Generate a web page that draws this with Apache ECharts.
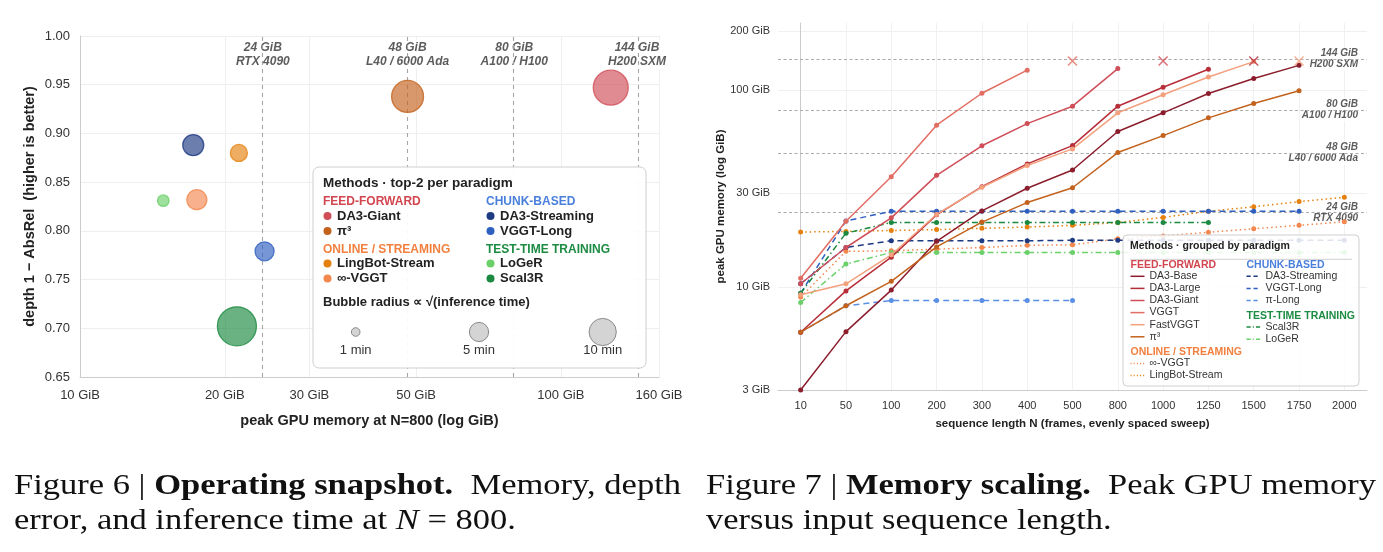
<!DOCTYPE html>
<html><head><meta charset="utf-8">
<script src="https://cdn.jsdelivr.net/npm/echarts@6.0.0/dist/echarts.min.js"></script>
<style>html,body{margin:0;padding:0;background:#fff;}#c{width:1383px;height:552px;}</style>
</head><body><div id="c"></div>
<script>
// ===== Figure 6 : operating snapshot at N = 800 =====
const bubbleNames    = ['DA3-Giant', 'π³', 'DA3-Streaming', 'VGGT-Long', 'LingBot-Stream', '∞-VGGT', 'LoGeR', 'Scal3R'];
const bubbleParadigm = ['FEED-FORWARD', 'FEED-FORWARD', 'CHUNK-BASED', 'CHUNK-BASED', 'ONLINE / STREAMING', 'ONLINE / STREAMING', 'TEST-TIME TRAINING', 'TEST-TIME TRAINING'];
const bubbleMemGiB   = [127, 48, 17.2, 24.2, 21.4, 17.5, 14.9, 21.2];
const bubbleDepth    = [0.947, 0.938, 0.888, 0.779, 0.880, 0.832, 0.831, 0.702];
const bubbleTimeMin  = [16.5, 13.8, 6.0, 4.9, 3.9, 5.4, 1.8, 20.6];
const memTicksGiB    = [10, 20, 30, 50, 100, 160];
const gpuMemGiB      = [24, 48, 80, 144];
const gpuNames       = ['RTX 4090', 'L40 / 6000 Ada', 'A100 / H100', 'H200 SXM'];
const sizeKeyMin     = [1, 5, 10];

// ===== Figure 7 : memory scaling =====
const seqLenN        = ['10','50','100','200','300','400','500','800','1000','1250','1500','1750','2000'];
const memAxisTicks   = [3, 10, 30, 100, 200];
const DA3Base        = [3.0, 5.94, 9.66, 17.1, 24.4, 31.8, 39.4, 61.8, 76.9, 96.4, 115, 134, null];
const DA3Large       = [5.9, 9.57, 14.2, 23.3, 32.4, 42.3, 52.4, 83.1, 103.8, 128, null, null, null];
const DA3Giant       = [10.4, 15.9, 22.5, 37.0, 52.3, 67.8, 83.1, 129, null, null, null, null, null];
const VGGT           = [11.1, 21.6, 36.4, 66.5, 96.7, 126.7, null, null, null, null, null, null, null];
const FastVGGT       = [9.14, 10.4, 14.6, 23.4, 32.2, 41.5, 50.4, 76.9, 95, 117, 140, null, null];
const Pi3            = [5.9, 8.04, 10.7, 16.0, 21.4, 26.9, 32.0, 48.3, 58.9, 72.5, 85.8, 99.5, null];
const InfVGGT        = [8.9, 15.2, 15.3, 15.6, 15.9, 16.3, 16.4, 17.6, 18.2, 19.0, 19.8, 20.6, 21.5];
const LingBotStream  = [19.05, 19.2, 19.4, 19.6, 19.9, 20.2, 20.6, 21.3, 22.6, 24.3, 25.6, 27.2, 28.6];
const DA3Streaming   = [10.4, 15.9, 17.2, 17.2, 17.2, 17.2, 17.3, 17.3, 17.3, 17.3, 17.3, 17.3, 17.3];
const VGGTLong       = [9.3, 21.7, 24.3, 24.3, 24.3, 24.3, 24.3, 24.3, 24.3, 24.3, 24.3, 24.3, null];
const PiLong         = [5.9, 8.04, 8.55, 8.55, 8.55, 8.55, 8.55, null, null, null, null, null, null];
const Scal3R         = [9.3, 18.8, 21.3, 21.3, 21.3, 21.3, 21.3, 21.3, 21.3, 21.3, null, null, null];
const LoGeR          = [8.35, 13.1, 15.0, 15.0, 15.0, 15.0, 15.0, 15.0, 15.0, 15.0, 15.0, 15.0, 15.0];
const lineNames      = ['DA3-Base','DA3-Large','DA3-Giant','VGGT','FastVGGT','π³','∞-VGGT','LingBot-Stream','DA3-Streaming','VGGT-Long','π-Long','Scal3R','LoGeR'];
const lineParadigm   = ['FEED-FORWARD','FEED-FORWARD','FEED-FORWARD','FEED-FORWARD','FEED-FORWARD','FEED-FORWARD','ONLINE / STREAMING','ONLINE / STREAMING','CHUNK-BASED','CHUNK-BASED','CHUNK-BASED','TEST-TIME TRAINING','TEST-TIME TRAINING'];
const lineValues     = [DA3Base, DA3Large, DA3Giant, VGGT, FastVGGT, Pi3, InfVGGT, LingBotStream, DA3Streaming, VGGTLong, PiLong, Scal3R, LoGeR];
const oomN           = ['500', '1000', '1500', '1750'];
const oomMemGiB      = [141, 141, 141, 141];
const oomMethod      = ['VGGT', 'DA3-Giant', 'DA3-Large', 'FastVGGT'];

// ===== styles =====
const SANS = '"Liberation Sans", Arial, Helvetica, sans-serif';
const SERIF = '"Liberation Serif", "Times New Roman", serif';
const L = Math.log10;
const K_R = 4.3;
const bubbleR = t => K_R * Math.sqrt(t);
const paradigmColor = {'FEED-FORWARD':'#d2464f','CHUNK-BASED':'#4a80db','ONLINE / STREAMING':'#f2813f','TEST-TIME TRAINING':'#1d8c43'};
const paradigmDash  = {'FEED-FORWARD':'solid','CHUNK-BASED':[6,4],'ONLINE / STREAMING':[1.5,3],'TEST-TIME TRAINING':[6,3,1.5,3]};
const methodColor = {
  'DA3-Base':'#8b1d2c','DA3-Large':'#b72d3a','DA3-Giant':'#cf4e58','VGGT':'#e26d62','FastVGGT':'#f3a07d','π³':'#c3621d',
  '∞-VGGT':'#f3884f','LingBot-Stream':'#e5820f','DA3-Streaming':'#1e3a82','VGGT-Long':'#2f5fbf','π-Long':'#5a8fe6',
  'Scal3R':'#1b8a40','LoGeR':'#6bd06a'};
function hexA(h, a){const n=parseInt(h.slice(1),16);return `rgba(${n>>16},${(n>>8)&255},${n&255},${a})`;}

const chart = echarts.init(document.getElementById('c'), null, {renderer:'canvas'});
const series = [];

// left: GPU budget lines + labels
series.push({
  type:'scatter', xAxisIndex:0, yAxisIndex:0, symbolSize:0, silent:true, z:3, clip:false,
  data: gpuMemGiB.map(m => [L(m), 0.981]),
  label:{show:true, position:'inside', formatter:p => gpuMemGiB[p.dataIndex]+' GiB\n'+gpuNames[p.dataIndex],
    fontFamily:SANS, fontSize:12, fontWeight:'bold', fontStyle:'italic', color:'#333', lineHeight:14, backgroundColor:'#fff', padding:[1,2]},
  markLine:{silent:true, symbol:'none', label:{show:false}, lineStyle:{color:'#a5a5a5', type:[4,4], width:1.1},
    data: gpuMemGiB.map(m => ({xAxis:L(m)}))}
});
// left: bubbles
series.push({
  type:'scatter', xAxisIndex:0, yAxisIndex:0, z:5, silent:true,
  symbolSize: v => 2*bubbleR(v[2]),
  data: bubbleNames.map((n,i) => ({name:n, value:[L(bubbleMemGiB[i]), bubbleDepth[i], bubbleTimeMin[i]],
    itemStyle:{color:hexA(methodColor[n],0.82), borderColor:methodColor[n], borderWidth:1.3}}))
});
// right: reference GPU lines
series.push({
  type:'scatter', xAxisIndex:1, yAxisIndex:1, symbolSize:0, silent:true, z:4, clip:false,
  data: gpuMemGiB.map(m => [12.5, L(m)]),
  label:{show:true, position:'inside', align:'right', offset:[-8,0], formatter:p => gpuMemGiB[p.dataIndex]+' GiB\n'+gpuNames[p.dataIndex],
    fontFamily:SANS, fontSize:10, fontWeight:'bold', fontStyle:'italic', color:'#333', lineHeight:11, backgroundColor:'#fff', padding:[1,1]},
  markLine:{silent:true, symbol:'none', label:{show:false}, lineStyle:{color:'#aaaaaa', type:[3,2.5], width:1.2},
    data: gpuMemGiB.map(m => ({yAxis:L(m)}))}
});
// right: method lines
lineNames.forEach((n,k) => {
  const c = methodColor[n];
  series.push({
    type:'line', name:n, xAxisIndex:1, yAxisIndex:1, z: lineParadigm[k]==='FEED-FORWARD' ? 6 : 5, silent:true,
    data: lineValues[k].map((v,i) => v==null ? null : [i, L(v)]).filter(Boolean),
    symbol:'circle', symbolSize:5, showSymbol:true,
    lineStyle:{width:1.5, type:paradigmDash[lineParadigm[k]], color:c}, itemStyle:{color:c}
  });
});
// right: OOM markers
series.push({
  type:'scatter', xAxisIndex:1, yAxisIndex:1, z:7, silent:true, clip:false,
  symbol:'path://M0,0L10,10M10,0L0,10', symbolSize:9,
  data: oomN.map((n,i) => ({value:[seqLenN.indexOf(n), L(oomMemGiB[i])],
    itemStyle:{color:'none', borderColor:methodColor[oomMethod[i]], borderWidth:1.5}}))
});

// ===== graphics: legends and captions =====
const G = [];
function text(x, y, t, o){ G.push({type:'text', x, y, z:101, silent:true,
  style:Object.assign({text:t, fill:'#222', fontFamily:SANS, fontSize:12, verticalAlign:'middle', align:'left'}, o||{})}); }

// left legend
G.push({type:'rect', z:100, silent:true, shape:{x:313, y:167, width:333, height:201, r:6}, style:{fill:'rgba(255,255,255,0.93)', stroke:'#cfcfcf', lineWidth:1}});
text(323, 183, 'Methods · top-2 per paradigm', {fontWeight:'bold', fontSize:13.5});
[['FEED-FORWARD','ONLINE / STREAMING'],['CHUNK-BASED','TEST-TIME TRAINING']].forEach((col, ci) => {
  const x0 = [323, 486][ci];
  let y = 202;
  col.forEach(par => {
    text(x0, y, par, {fill:paradigmColor[par], fontSize:12, fontWeight:'bold'});
    y += 14;
    bubbleNames.forEach((n,i) => {
      if (bubbleParadigm[i] !== par) return;
      G.push({type:'circle', z:101, silent:true, shape:{cx:x0+4.5, cy:y, r:4}, style:{fill:methodColor[n]}});
      text(x0+14, y, n, {fontWeight:'bold', fontSize:13});
      y += 15;
    });
    y += 3.5;
  });
});
text(323, 302.5, 'Bubble radius ∝ √(inference time)', {fontWeight:'bold', fontSize:13});
[355.7, 479, 602.7].forEach((cx, i) => {
  G.push({type:'circle', z:101, silent:true, shape:{cx, cy:332, r:bubbleR(sizeKeyMin[i])}, style:{fill:'#d4d4d4', stroke:'#8a8a8a', lineWidth:1}});
  text(cx, 350, sizeKeyMin[i]+' min', {align:'center', fontSize:13, fill:'#333'});
});

// right legend
G.push({type:'rect', z:100, silent:true, shape:{x:1123, y:235, width:236, height:151, r:4}, style:{fill:'rgba(255,255,255,0.86)', stroke:'#cfcfcf', lineWidth:1}});
text(1130, 246.5, 'Methods · grouped by paradigm', {fontWeight:'bold', fontSize:10.5});
G.push({type:'line', z:101, silent:true, shape:{x1:1130, y1:259.3, x2:1352, y2:259.3}, style:{stroke:'#d0d0d0', lineWidth:1}});
[['FEED-FORWARD','ONLINE / STREAMING'],['CHUNK-BASED','TEST-TIME TRAINING']].forEach((col, ci) => {
  const x0 = [1130.5, 1246.5][ci];
  let y = 265;
  col.forEach(par => {
    text(x0, y, par, {fill:paradigmColor[par], fontSize:10.5, fontWeight:'bold'});
    y += 11.3;
    lineNames.forEach((n,k) => {
      if (lineParadigm[k] !== par) return;
      const d = paradigmDash[par];
      G.push({type:'line', z:101, silent:true, shape:{x1:x0, y1:y, x2:x0+14, y2:y},
        style:{stroke:methodColor[n], lineWidth:1.5, lineDash: d==='solid' ? null : d.map(v=>v*0.7)}});
      text(x0+19, y, n, {fontSize:10.5, fill:'#333'});
      y += 12.1;
    });
    y += 3.2;
  });
});

// captions
const capL1 = [['Figure 6 | ','n'],['Operating snapshot.','b'],['  Memory, depth','n']];
const capL2 = [['error, and inference time at ','n'],['N','i'],[' = 800.','n']];
const capR1 = [['Figure 7 | ','n'],['Memory scaling.','b'],['  Peak GPU memory','n']];
const capR2 = [['versus input sequence length.','n']];
const CAP_FS = 30;
const mctx = document.createElement('canvas').getContext('2d');
function segFont(s){ return (s==='b'?'bold ':s==='i'?'italic ':'') + CAP_FS + 'px ' + SERIF; }
function measure(segs){ let w=0; segs.forEach(([t,s]) => { mctx.font = segFont(s); w += mctx.measureText(t).width; }); return w; }
const capRich = {
  n:{fontFamily:SERIF, fontSize:CAP_FS, color:'#111'},
  b:{fontFamily:SERIF, fontSize:CAP_FS, fontWeight:'bold', color:'#111'},
  i:{fontFamily:SERIF, fontSize:CAP_FS, fontStyle:'italic', color:'#111'}
};
function caption(x, y, segs, sx){
  G.push({type:'text', x, y, z:101, silent:true, scaleX:sx,
    style:{text:segs.map(([t,s]) => '{'+s+'|'+t+'}').join(''), rich:capRich, fontFamily:SERIF, fontSize:CAP_FS, verticalAlign:'middle', align:'left', fill:'#111'}});
}
const sxL = 667 / measure(capL1), sxR = 670 / measure(capR1);
caption(14, 486, capL1, sxL);
caption(14, 521, capL2, sxL);
caption(706, 486, capR1, sxR);
caption(706, 521, capR2, sxR);

const option = {
  animation:false,
  backgroundColor:'#fff',
  textStyle:{fontFamily:SANS},
  grid:[{left:80, top:36, width:579, height:341}, {left:778, top:23, width:589, height:367}],
  xAxis:[
    {gridIndex:0, type:'value', min:L(10), max:L(160),
     name:'peak GPU memory at N=800 (log GiB)', nameLocation:'middle', nameGap:36,
     nameTextStyle:{fontWeight:'bold', fontSize:14.5, color:'#222', fontFamily:SANS},
     axisLine:{show:true, lineStyle:{color:'#cccccc'}},
     axisTick:{show:false, customValues:memTicksGiB.map(L)},
     axisLabel:{customValues:memTicksGiB.map(L), formatter:v => Math.round(Math.pow(10,v))+' GiB', fontSize:13, color:'#333', margin:12, fontFamily:SANS, hideOverlap:false},
     splitLine:{show:true, lineStyle:{color:'#eeeeee'}}},
    {gridIndex:1, type:'value', min:-0.5, max:12.5,
     name:'sequence length N (frames, evenly spaced sweep)', nameLocation:'middle', nameGap:28,
     nameTextStyle:{fontWeight:'bold', fontSize:11.5, color:'#222', fontFamily:SANS},
     axisLine:{show:true, lineStyle:{color:'#cccccc'}},
     axisTick:{show:false, customValues:seqLenN.map((_,i)=>i)},
     axisLabel:{customValues:seqLenN.map((_,i)=>i), formatter:v => seqLenN[Math.round(v)], fontSize:11, color:'#333', margin:10, fontFamily:SANS, hideOverlap:false},
     splitLine:{show:true, lineStyle:{color:'#f0f0f0'}}}
  ],
  yAxis:[
    {gridIndex:0, type:'value', min:0.65, max:1.0, interval:0.05,
     name:'depth 1 − AbsRel  (higher is better)', nameLocation:'middle', nameGap:43,
     nameTextStyle:{fontWeight:'bold', fontSize:14.5, color:'#222', fontFamily:SANS},
     axisLine:{show:true, lineStyle:{color:'#cccccc'}}, axisTick:{show:false},
     axisLabel:{formatter:v => v.toFixed(2), fontSize:13, color:'#333', margin:10, fontFamily:SANS},
     splitLine:{show:true, lineStyle:{color:'#eeeeee'}}},
    {gridIndex:1, type:'value', min:L(3), max:L(220),
     name:'peak GPU memory (log GiB)', nameLocation:'middle', nameGap:50,
     nameTextStyle:{fontWeight:'bold', fontSize:11.5, color:'#222', fontFamily:SANS},
     axisLine:{show:true, lineStyle:{color:'#cccccc'}},
     axisTick:{show:false, customValues:memAxisTicks.map(L)},
     axisLabel:{customValues:memAxisTicks.map(L), formatter:v => Math.round(Math.pow(10,v))+' GiB', fontSize:11, color:'#333', margin:8, fontFamily:SANS},
     splitLine:{show:true, lineStyle:{color:'#f0f0f0'}}}
  ],
  series,
  graphic:{elements:G}
};
chart.setOption(option);
</script></body></html>
